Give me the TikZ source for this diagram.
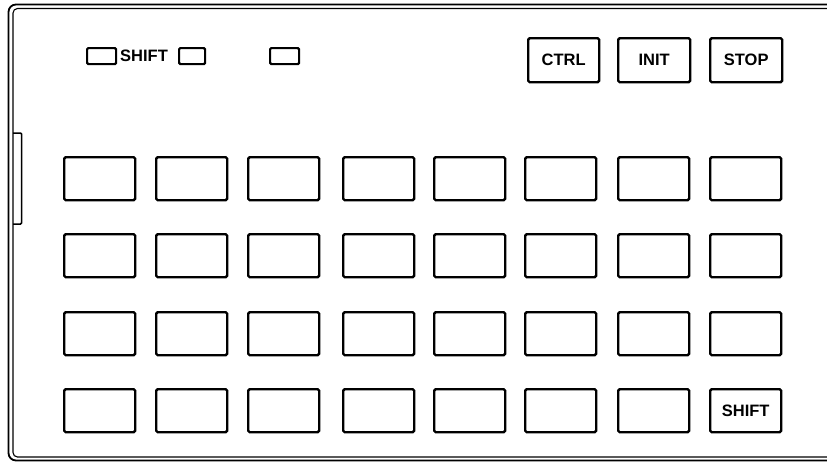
\documentclass[tikz,border=0pt]{standalone}
\usepackage{fontspec}
\setmainfont{Liberation Sans}
\begin{document}
\begin{tikzpicture}[x=1pt,y=-1pt,
  keybox/.style={draw,line width=2.4pt,rounded corners=1.5pt,minimum width=71pt,minimum height=43pt,inner sep=0pt,anchor=north west,font=\fontsize{16.5}{18}\selectfont\bfseries},
  smallkey/.style={draw,line width=2.2pt,rounded corners=1.2pt,minimum height=16pt,inner sep=0pt,anchor=north west},
  lbl/.style={font=\fontsize{16.5}{18}\selectfont\bfseries,inner sep=0pt,anchor=west},
  frame/.style={line width=1.8pt}]
\useasboundingbox (0,0) rectangle (827,464);
% frame (double line)
\draw[frame,rounded corners=7.5pt] (830,4.5) -- (8.5,4.5) -- (8.5,460.5) -- (830,460.5);
\draw[line width=1.1pt,rounded corners=4.5pt] (830,8.5) -- (13,8.5) -- (13,457) -- (830,457);
% side tab
\draw[line width=1.5pt,rounded corners=1pt] (13,133) -- (21.5,133) -- (21.5,224) -- (13,224);
% top small keys
\node[smallkey,minimum width=29pt] (s1) at (86,47) {};
\node[lbl] (shiftlbl) at (120,56) {SHIFT};
\node[smallkey,minimum width=26pt] (s2) at (178,47) {};
\node[smallkey,minimum width=29pt] (s3) at (269,47) {};
% function keys
\node[keybox,minimum height=44pt,minimum width=71pt] (ctrl) at (527,37) {CTRL};
\node[keybox,minimum height=44pt,minimum width=72pt] (init) at (617,37) {INIT};
\node[keybox,minimum height=44pt,minimum width=72pt] (stop) at (709,37) {STOP};
% key grid
\foreach \r/\y in {1/156,2/233,3/311,4/388}{
  \foreach \c/\x in {1/63,2/155,3/247,4/342,5/433,6/524,7/617,8/709}{
    \ifnum\r=4 \ifnum\c=8 \else
      \node[keybox] (k\r\c) at (\x,\y) {};
    \fi\else
      \node[keybox] (k\r\c) at (\x,\y) {};
    \fi
  }
}
\node[keybox] (k48) at (709,388) {SHIFT};
\end{tikzpicture}
\end{document}
